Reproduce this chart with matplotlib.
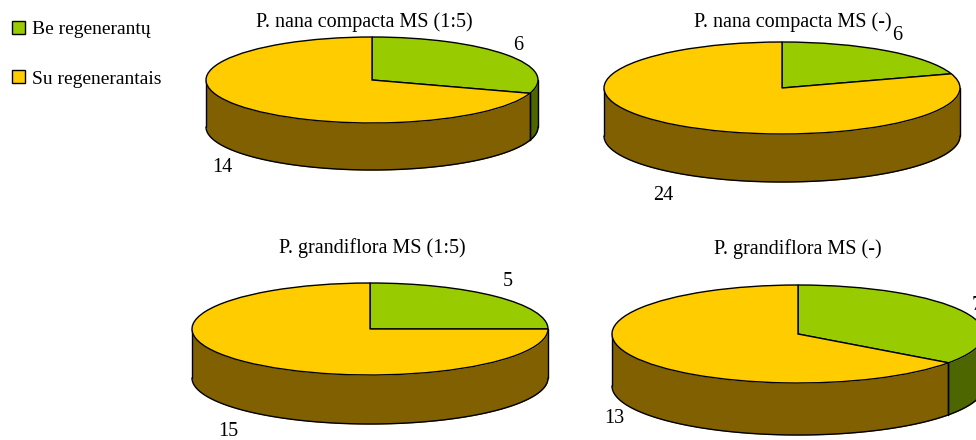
import numpy as np
import matplotlib
matplotlib.use('Agg')
import matplotlib.pyplot as plt
from matplotlib.patches import Patch

W, H = 976, 440

# --- Data ---
series_names = ['Be regenerantų', 'Su regenerantais']
titles = ['P. nana compacta MS (1:5)', 'P. nana compacta MS (-)',
          'P. grandiflora MS (1:5)', 'P. grandiflora MS (-)']
without_regen = [6, 6, 5, 7]
with_regen = [14, 24, 15, 13]

# --- Layout (pixels): centre x, centre y, radius x, radius y, wall height ---
pies = [(372, 80, 166, 43, 47),
        (782, 88, 178, 46, 48),
        (370, 329, 178, 46, 49),
        (798, 334, 186, 49, 52)]
title_pos = [(364, 22), (793, 22), (372, 248), (798, 249)]
label0_pos = [(518, 45), (897, 35), (508, 281), (977, 305)]
label1_pos = [(222, 167), (663, 195), (228, 431), (614, 418)]

GREEN, YELLOW = '#99cc00', '#ffcc00'
GREEN_DARK, YELLOW_DARK = '#4d6600', '#806000'

plt.rcParams['font.family'] = ['Liberation Serif', 'DejaVu Serif']
fig = plt.figure(figsize=(W / 100, H / 100), dpi=100)


def wall(ax, t0, t1, depth, color):
    # front wall between two angles, angles in degrees counter-clockwise from +x
    t = np.radians(np.linspace(t0, t1, 120))
    ax.fill_between(np.cos(t), np.sin(t), np.sin(t) - depth, color=color,
                    linewidth=0, zorder=0.5, clip_on=False)
    ax.plot(np.cos(t), np.sin(t) - depth, color='k', lw=1, zorder=0.6, clip_on=False,
            solid_capstyle='round')
    for a in (t[0], t[-1]):
        ax.plot([np.cos(a)] * 2, [np.sin(a), np.sin(a) - depth], color='k', lw=1,
                zorder=0.6, clip_on=False, solid_capstyle='round')


for i, (cx, cy, rx, ry, d) in enumerate(pies):
    ax = fig.add_axes([(cx - rx) / W, 1 - (cy + ry) / H, 2 * rx / W, 2 * ry / H])
    vals = [without_regen[i], with_regen[i]]
    wedges, _ = ax.pie(vals, colors=[GREEN, YELLOW], startangle=90, counterclock=False,
                       radius=1, wedgeprops={'edgecolor': 'k', 'linewidth': 1, 'clip_on': False})
    ax.set_aspect('auto')
    ax.set_xlim(-1, 1)
    ax.set_ylim(-1, 1)
    ax.axis('off')

    # boundary between the slices, going clockwise from 12 o'clock
    boundary = 90 - 360 * vals[0] / sum(vals)
    depth = d / ry
    if boundary < 0:
        wall(ax, 0, boundary, depth, GREEN_DARK)
        wall(ax, boundary, -180, depth, YELLOW_DARK)
    else:
        wall(ax, 0, -180, depth, YELLOW_DARK)

    fig.text(title_pos[i][0] / W, 1 - title_pos[i][1] / H, titles[i], fontsize=14.5,
             ha='center', va='center', color='k')
    fig.text(label0_pos[i][0] / W, 1 - label0_pos[i][1] / H, str(vals[0]), fontsize=14.5,
             ha='center', va='center', color='k')
    fig.text(label1_pos[i][0] / W, 1 - label1_pos[i][1] / H, str(vals[1]), fontsize=14.5,
             ha='center', va='center', color='k')

handles = [Patch(facecolor=GREEN, edgecolor='k', linewidth=1),
           Patch(facecolor=YELLOW, edgecolor='k', linewidth=1)]
fig.legend(handles, series_names, loc='upper left', bbox_to_anchor=(12 / W, 1 - 21 / H),
           frameon=False, fontsize=14, handlelength=0.67, handleheight=0.62,
           handletextpad=0.36, labelspacing=1.66, borderpad=0, borderaxespad=0)

fig.savefig('out.png', dpi=100)
